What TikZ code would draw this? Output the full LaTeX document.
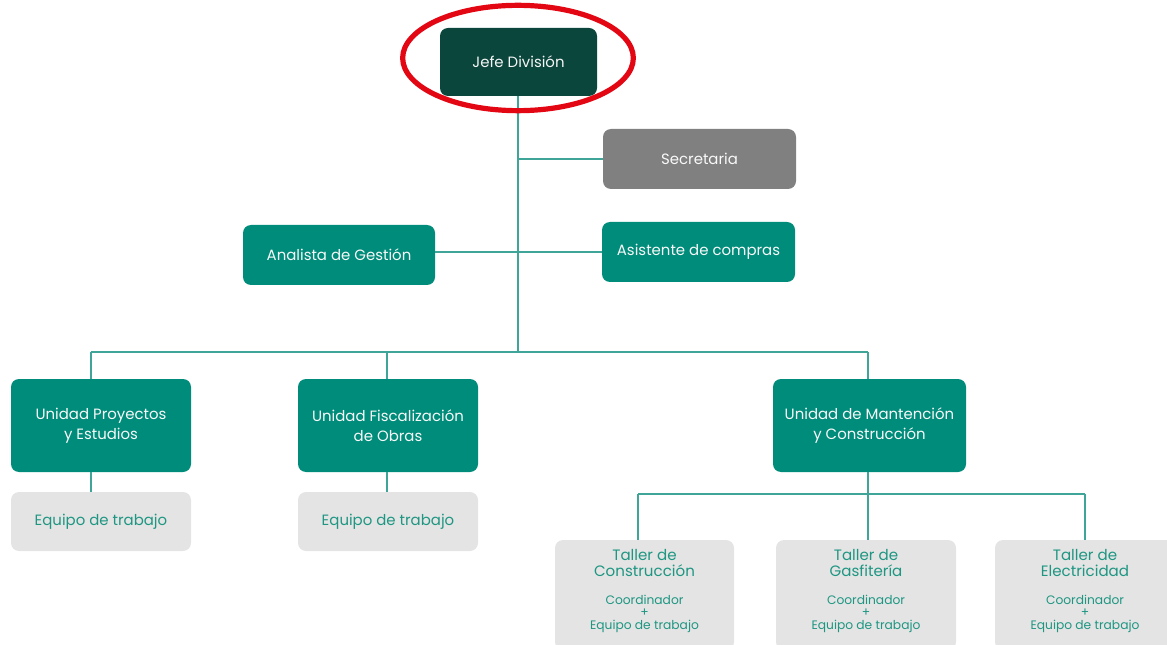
\documentclass[tikz,border=0pt]{standalone}
\usepackage{fontspec}
\setmainfont{Poppins}
\usetikzlibrary{positioning}
\definecolor{jefec}{HTML}{0B463D}
\definecolor{tealc}{HTML}{008C7A}
\definecolor{linec}{HTML}{3FA598}
\definecolor{greyc}{HTML}{808080}
\definecolor{lightc}{HTML}{E4E4E4}
\definecolor{txtc}{HTML}{1E9682}
\definecolor{redc}{HTML}{E30613}
\newcommand{\bigt}{\fontsize{11.3}{9.4}\selectfont}
\newcommand{\smallt}{\fontsize{9.2}{9.4}\selectfont}
\tikzset{
  box/.style={rounded corners=6pt, inner sep=2pt, align=center, font=\fontsize{11.2}{15}\selectfont},
  darkbox/.style={box, fill=jefec, text=white!92!gray},
  tealbox/.style={box, fill=tealc, text=white!95!gray},
  greybox/.style={box, fill=greyc, text=white!95!gray},
  lightbox/.style={box, fill=lightc, text=txtc},
  tallerbox/.style={lightbox, font=\fontsize{9.2}{9.4}\selectfont, minimum width=135pt, minimum height=82.5pt},
  conn/.style={draw=linec, line width=1.3pt},
}
\begin{document}
\begin{tikzpicture}[x=0.75pt,y=-0.75pt]
\useasboundingbox (0,0) rectangle (1167,645);
\clip (0,0) rectangle (1167,645);
% nodes
\node[darkbox, minimum width=117.75pt, minimum height=51pt] (jefe) at (518.5,62) {Jefe División};
\node[greybox, minimum width=144.75pt, minimum height=45pt] (secr) at (699.5,159) {Secretaria};
\node[tealbox, minimum width=144pt, minimum height=45pt] (ana) at (339,255) {Analista de Gestión};
\node[tealbox, minimum width=144.75pt, minimum height=45pt] (asi) at (698.5,252) {Asistente de compras};
\node[tealbox, minimum width=135pt, minimum height=69.75pt] (up) at (101,425.5) {Unidad Proyectos\\y Estudios};
\node[tealbox, minimum width=135pt, minimum height=69.75pt] (uf) at (388,425.5) {Unidad Fiscalización\\de Obras};
\node[tealbox, minimum width=144.75pt, minimum height=69.75pt] (um) at (869.5,425.5) {Unidad de Mantención\\y Construcción};
\node[lightbox, minimum width=135pt, minimum height=44.25pt] (eq1) at (101,521.5) {Equipo de trabajo};
\node[lightbox, minimum width=135pt, minimum height=44.25pt] (eq2) at (388,521.5) {Equipo de trabajo};
\node[tallerbox, minimum width=134.25pt] (tc) at (644.5,595) {\bigt Taller de\\[2.6pt]\bigt Construcción\\[11.6pt]\smallt Coordinador\\\smallt +\\[0.4pt]\smallt Equipo de trabajo\rule[-8.5pt]{0pt}{1pt}};
\node[tallerbox] (tg) at (866,595) {\bigt Taller de\\[2.6pt]\bigt Gasfitería\\[11.6pt]\smallt Coordinador\\\smallt +\\[0.4pt]\smallt Equipo de trabajo\rule[-8.5pt]{0pt}{1pt}};
\node[tallerbox] (te) at (1085,595) {\bigt Taller de\\[2.6pt]\bigt Electricidad\\[11.6pt]\smallt Coordinador\\\smallt +\\[0.4pt]\smallt Equipo de trabajo\rule[-8.5pt]{0pt}{1pt}};
% coordinates
\coordinate (bus) at (518,352);
\coordinate (d1) at (91,352);
\coordinate (d2) at (387,352);
\coordinate (d3) at (868,352);
\coordinate (e1) at (638,494);
\coordinate (e2) at (868,494);
\coordinate (e3) at (1085,494);
% connectors
\path[conn] (jefe.south -| bus) -- (bus);
\path[conn] (secr.west) -- (secr.west -| bus);
\path[conn] (ana.east |- asi.west) -- (asi.west);
\path[conn] (d1) -- (d3);
\path[conn] (d1) -- (d1 |- up.north);
\path[conn] (d2) -- (d2 |- uf.north);
\path[conn] (d3) -- (d3 |- um.north);
\path[conn] (up.south -| d1) -- (eq1.north -| d1);
\path[conn] (uf.south -| d2) -- (eq2.north -| d2);
\path[conn] (um.south -| e2) -- (e2);
\path[conn] (e1) -- (e3);
\path[conn] (e1) -- (e1 |- tc.north);
\path[conn] (e2) -- (e2 |- tg.north);
\path[conn] (e3) -- (e3 |- te.north);
% highlight
\draw[redc, line width=3.9pt] (518,58) ellipse [x radius=86.5pt, y radius=39.5pt];
\end{tikzpicture}
\end{document}
